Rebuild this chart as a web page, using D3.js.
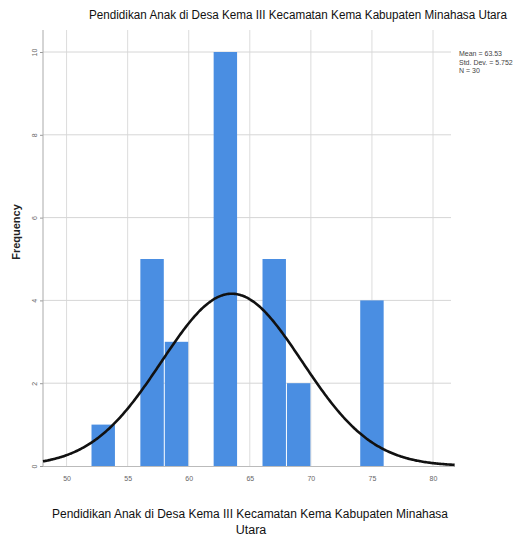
<!DOCTYPE html>
<html><head><meta charset="utf-8">
<script src="https://cdn.jsdelivr.net/npm/d3@7"></script>
<style>body{margin:0;background:#fff}svg{display:block}</style>
</head><body><svg id="c" width="518" height="540"></svg>
<script>
const binStarts = [52, 56, 58, 62, 66, 68, 74];
const counts = [1, 5, 3, 10, 5, 2, 4];
const binWidth = 2;
const xTicks = [50, 55, 60, 65, 70, 75, 80];
const yTicks = [0, 2, 4, 6, 8, 10];
const statLabels = ["Mean = 63.53", "Std. Dev. = 5.752", "N = 30"];
const meanVal = 63.53, sdVal = 5.752, nVal = 30;
const titleText = "Pendidikan Anak di Desa Kema III Kecamatan Kema Kabupaten Minahasa Utara";
const xTitleLines = ["Pendidikan Anak di Desa Kema III Kecamatan Kema Kabupaten Minahasa", "Utara"];

const svg = d3.select("#c");
const font = "'Liberation Sans Narrow','Arial Narrow','Liberation Sans',Arial,sans-serif";
const x = d3.scaleLinear().domain([48.07, 81.8]).range([43, 455]);
const y = d3.scaleLinear().domain([0, 10]).range([466, 52]);

// gridlines
svg.append("g").selectAll("line").data(xTicks).join("line")
  .attr("x1", d => x(d)).attr("x2", d => x(d)).attr("y1", 30).attr("y2", 466)
  .attr("stroke", "#dcdcdc").attr("stroke-width", 1);
svg.append("g").selectAll("line").data(yTicks.slice(1)).join("line")
  .attr("x1", 43).attr("x2", 451).attr("y1", d => y(d)).attr("y2", d => y(d))
  .attr("stroke", "#d6d6d6").attr("stroke-width", 1);

// bars
svg.append("g").selectAll("rect").data(binStarts.map((b, i) => ({b, c: counts[i]}))).join("rect")
  .attr("x", d => x(d.b) + 0.5).attr("width", d => x(d.b + binWidth) - x(d.b) - 1)
  .attr("y", d => y(d.c)).attr("height", d => y(0) - y(d.c))
  .attr("fill", "#4a8ee2");

// axes
const yAxis = d3.axisLeft(y).tickValues(yTicks).tickSize(3).tickFormat(d3.format("d"));
const gy = svg.append("g").attr("transform", "translate(43,0)").call(yAxis);
gy.select(".domain").remove();
gy.selectAll(".tick line").attr("stroke", "#999");
gy.selectAll(".tick text").attr("font-size", 7).attr("fill", "#666").attr("font-family", font)
  .attr("transform", "rotate(-90)").attr("x", 0).attr("y", -6).attr("dy", "0").attr("text-anchor", "middle");
svg.append("line").attr("x1", 43).attr("x2", 43).attr("y1", 30).attr("y2", 466).attr("stroke", "#aaa");

const xAxis = d3.axisBottom(x).tickValues(xTicks).tickSize(0).tickFormat(d3.format("d"));
const gx = svg.append("g").attr("transform", "translate(0,466)").call(xAxis);
gx.select(".domain").remove();
gx.selectAll(".tick text").attr("font-size", 7).attr("fill", "#666").attr("font-family", font).attr("y", 10);
svg.append("line").attr("x1", 43).attr("x2", 455).attr("y1", 466.5).attr("y2", 466.5).attr("stroke", "#bbb");

// normal curve from displayed stats
const xs = d3.range(48.07, 81.81, 0.1);
const pdf = v => nVal * binWidth * Math.exp(-0.5 * ((v - meanVal) / sdVal) ** 2) / (sdVal * Math.sqrt(2 * Math.PI));
svg.append("path").datum(xs)
  .attr("d", d3.line().x(d => x(d)).y(d => y(pdf(d))).curve(d3.curveBasis))
  .attr("fill", "none").attr("stroke", "#111").attr("stroke-width", 2.6);

// title
svg.append("text").attr("x", 298).attr("y", 19).attr("text-anchor", "middle")
  .attr("font-family", font).attr("font-size", 12).attr("fill", "#111")
  .attr("textLength", 418).attr("lengthAdjust", "spacingAndGlyphs").text(titleText);

// stats legend
svg.append("g").selectAll("text").data(statLabels).join("text")
  .attr("x", 459).attr("y", (d, i) => 56 + i * 8.5)
  .attr("font-family", font).attr("font-size", 7).attr("fill", "#444").text(d => d);

// y title
svg.append("text").attr("transform", "translate(20,232) rotate(-90)").attr("text-anchor", "middle")
  .attr("font-family", "'Liberation Sans',Arial,sans-serif").attr("font-weight", "bold")
  .attr("font-size", 11).attr("fill", "#222").text("Frequency");

// x title
svg.append("text").attr("x", 250).attr("y", 518).attr("text-anchor", "middle")
  .attr("font-family", font).attr("font-size", 12.5).attr("fill", "#111")
  .attr("textLength", 396).attr("lengthAdjust", "spacingAndGlyphs").text(xTitleLines[0]);
svg.append("text").attr("x", 251).attr("y", 534).attr("text-anchor", "middle")
  .attr("font-family", font).attr("font-size", 12.5).attr("fill", "#111").text(xTitleLines[1]);
</script></body></html>
